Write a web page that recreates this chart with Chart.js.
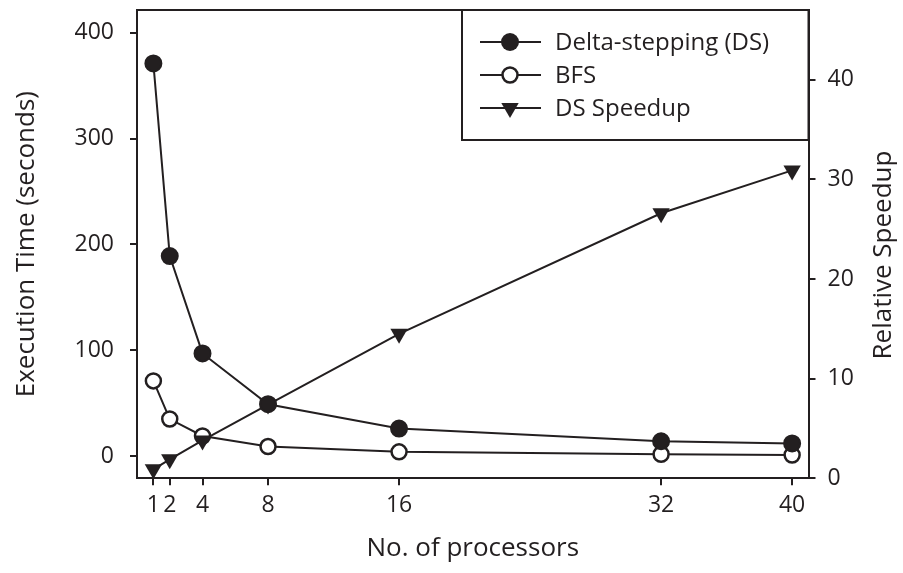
<!DOCTYPE html>
<html>
<head>
<meta charset="utf-8">
<script src="https://cdn.jsdelivr.net/npm/chart.js@4"></script>
<style>
  body { margin: 0; background: #fff; }
  #wrap { width: 903px; height: 573px; position: relative; }
</style>
</head>
<body>
<div id="wrap"><canvas id="perfChart"></canvas></div>
<script>
// values
const processors = [1, 2, 4, 8, 16, 32, 40];
const deltaStepping = [371, 189, 97, 49, 26, 14, 12];
const bfs = [71, 35, 19, 9, 4, 1.7, 1];
const dsSpeedup = [0.9, 1.9, 3.8, 7.4, 14.5, 26.6, 30.9];

const xTicks = [1, 2, 4, 8, 16, 32, 40];
const timeTicks = [0, 100, 200, 300, 400];
const speedupTicks = [0, 10, 20, 30, 40];

const ink = '#231f20';
const fontFamily = '"Open Sans", "Noto Sans", sans-serif';

const toPoints = (ys) => processors.map((p, i) => ({ x: p, y: ys[i] }));

// no extra room for half tick labels, the frame sits at fixed edges
const noPad = (s) => {
    s.paddingTop = 0; s.paddingBottom = 0;
    s.paddingLeft = 0; s.paddingRight = 0;
};

// frame top edge, right-hand title and the boxed legend
const framePlugin = {
    id: 'frameAndLegend',
    afterDraw(chart) {
        const ctx = chart.ctx;
        const a = chart.chartArea;
        ctx.save();
        ctx.strokeStyle = ink;
        ctx.lineWidth = 2;
        ctx.beginPath();
        ctx.moveTo(a.left - 1, a.top);
        ctx.lineTo(a.right + 1, a.top);
        ctx.stroke();

        // right axis title, read bottom to top
        ctx.save();
        ctx.translate(884, 255);
        ctx.rotate(-Math.PI / 2);
        ctx.fillStyle = ink;
        ctx.font = '26px ' + fontFamily;
        ctx.textAlign = 'center';
        ctx.textBaseline = 'middle';
        ctx.fillText('Relative Speedup', 0, 0);
        ctx.restore();

        // legend box
        const bx = 462, by = a.top, bw = a.right - 462, bh = 140 - a.top;
        ctx.fillStyle = '#fff';
        ctx.fillRect(bx, by, bw, bh);
        ctx.strokeRect(bx, by, bw, bh);

        const rows = [
            { label: 'Delta-stepping (DS)', style: 'filled', y: 42 },
            { label: 'BFS', style: 'open', y: 75 },
            { label: 'DS Speedup', style: 'triangle', y: 108 }
        ];
        ctx.font = '24px ' + fontFamily;
        ctx.textBaseline = 'middle';
        ctx.textAlign = 'left';
        rows.forEach(r => {
            ctx.strokeStyle = ink;
            ctx.lineWidth = 2;
            ctx.beginPath();
            ctx.moveTo(480, r.y);
            ctx.lineTo(541, r.y);
            ctx.stroke();
            const cx = 510;
            if (r.style === 'filled') {
                ctx.fillStyle = ink;
                ctx.beginPath();
                ctx.arc(cx, r.y, 9, 0, Math.PI * 2);
                ctx.fill();
            } else if (r.style === 'open') {
                ctx.fillStyle = '#fff';
                ctx.lineWidth = 2.5;
                ctx.beginPath();
                ctx.arc(cx, r.y, 7.5, 0, Math.PI * 2);
                ctx.fill();
                ctx.stroke();
            } else {
                ctx.fillStyle = ink;
                ctx.beginPath();
                ctx.moveTo(cx - 8.7, r.y - 5);
                ctx.lineTo(cx + 8.7, r.y - 5);
                ctx.lineTo(cx, r.y + 10);
                ctx.closePath();
                ctx.fill();
            }
            ctx.fillStyle = ink;
            ctx.fillText(r.label, 555, r.y + 1);
        });
        ctx.restore();
    }
};

const ctx = document.getElementById('perfChart').getContext('2d');
const perfChart = new Chart(ctx, {
    type: 'line',
    data: {
        datasets: [
            {
                label: 'Delta-stepping (DS)',
                data: toPoints(deltaStepping),
                yAxisID: 'y',
                borderColor: ink,
                borderWidth: 2,
                pointStyle: 'circle',
                pointRadius: 8,
                pointBorderWidth: 2,
                pointBackgroundColor: ink,
                pointBorderColor: ink,
                tension: 0,
                clip: false,
                order: 0
            },
            {
                label: 'BFS',
                data: toPoints(bfs),
                yAxisID: 'y',
                borderColor: ink,
                borderWidth: 2,
                pointStyle: 'circle',
                pointRadius: 7.5,
                pointBorderWidth: 2.5,
                pointBackgroundColor: '#fff',
                pointBorderColor: ink,
                tension: 0,
                clip: false,
                order: 2
            },
            {
                label: 'DS Speedup',
                data: toPoints(dsSpeedup),
                yAxisID: 'y2',
                borderColor: ink,
                borderWidth: 2,
                pointStyle: 'triangle',
                pointRotation: 180,
                pointRadius: 10,
                pointBorderWidth: 0,
                pointBackgroundColor: ink,
                pointBorderColor: ink,
                tension: 0,
                clip: false,
                order: 1
            }
        ]
    },
    options: {
        responsive: true,
        maintainAspectRatio: false,
        animation: false,
        layout: { padding: { top: 6.5, left: 0, right: 0, bottom: 0 } },
        plugins: {
            legend: { display: false },
            tooltip: { enabled: false }
        },
        scales: {
            x: {
                type: 'linear',
                position: 'bottom',
                min: 0,
                max: 41,
                afterBuildTicks: (s) => { s.ticks = xTicks.map(v => ({ value: v })); },
                afterFit: (s) => { s.height = 573 - 478.3; noPad(s); },
                border: { display: true, color: ink, width: 2 },
                grid: { display: true, drawOnChartArea: false, drawTicks: true, tickLength: 7, color: ink, lineWidth: 2 },
                ticks: {
                    autoSkip: false, maxRotation: 0, padding: 6, color: ink,
                    font: { family: fontFamily, size: 23 }
                },
                title: {
                    display: true, text: 'No. of processors', color: ink,
                    font: { family: fontFamily, size: 26 },
                    padding: { top: 0, bottom: 9 }
                }
            },
            y: {
                type: 'linear',
                position: 'left',
                min: -21,
                max: 421.5,
                afterBuildTicks: (s) => { s.ticks = timeTicks.map(v => ({ value: v })); },
                afterFit: (s) => { s.width = 137; noPad(s); },
                border: { display: true, color: ink, width: 2 },
                grid: { display: true, drawOnChartArea: false, drawTicks: true, tickLength: 7, color: ink, lineWidth: 2 },
                ticks: {
                    padding: 16, color: ink,
                    font: { family: fontFamily, size: 23 }
                },
                title: {
                    display: true, text: 'Execution Time (seconds)', color: ink,
                    font: { family: fontFamily, size: 26 },
                    padding: { top: 11, bottom: 0 }
                }
            },
            y2: {
                type: 'linear',
                position: 'right',
                min: 0,
                max: 47,
                afterBuildTicks: (s) => { s.ticks = speedupTicks.map(v => ({ value: v })); },
                afterFit: (s) => { s.width = 903 - 808.5; noPad(s); },
                border: { display: true, color: ink, width: 2 },
                grid: { display: true, drawOnChartArea: false, drawTicks: true, tickLength: 7, color: ink, lineWidth: 2 },
                ticks: {
                    padding: 12, color: ink,
                    font: { family: fontFamily, size: 23 }
                },
                title: { display: false }
            }
        }
    },
    plugins: [framePlugin]
});
</script>
</body>
</html>
